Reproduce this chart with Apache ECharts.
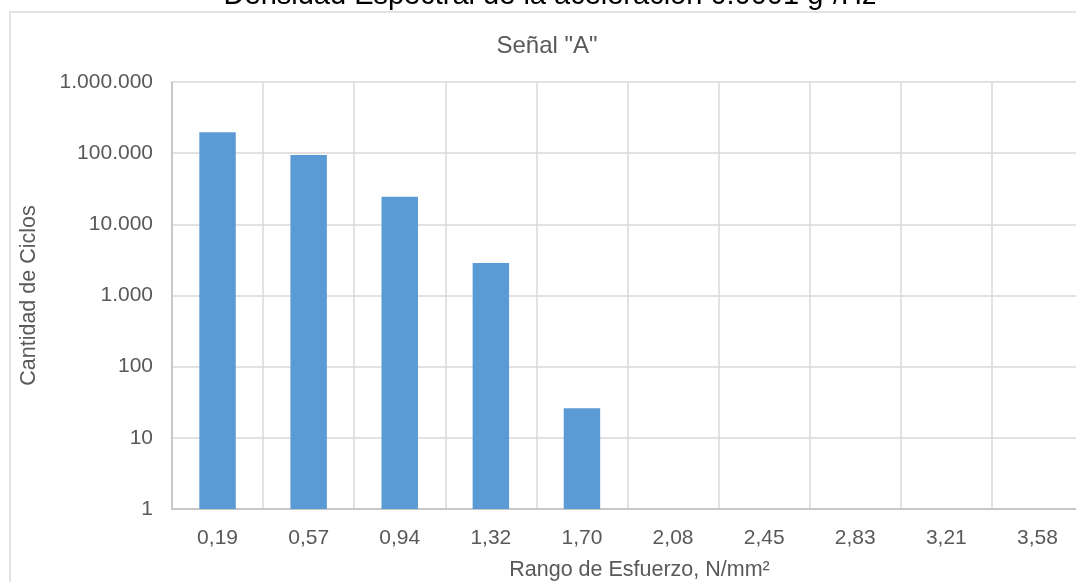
<!DOCTYPE html>
<html>
<head>
<meta charset="utf-8">
<script src="https://cdn.jsdelivr.net/npm/echarts@6/dist/echarts.min.js"></script>
<style>
html,body{margin:0;padding:0;background:#fff;}
#chart{width:1076px;height:582px;}
</style>
</head>
<body>
<div id="chart"></div>
<script>
const mainTitle = 'Densidad Espectral de la aceleración 0.0001 g²/Hz';
const subTitle = 'Señal "A"';
const categories = ['0,19','0,57','0,94','1,32','1,70','2,08','2,45','2,83','3,21','3,58'];
const cycles = [196000, 94200, 24400, 2860, 26, null, null, null, null, null];
const yAxisName = 'Cantidad de Ciclos';
const xAxisName = 'Rango de Esfuerzo, N/mm²';

const FONT = 'Liberation Sans, Arial, sans-serif';
const chart = echarts.init(document.getElementById('chart'), null, {renderer:'canvas'});

function fmt(v){
  return String(Math.round(v)).replace(/\B(?=(\d{3})+(?!\d))/g, '.');
}

chart.setOption({
  animation:false,
  backgroundColor:'#ffffff',
  graphic:[
    {type:'rect', z:-1, shape:{x:10, y:12, width:1090, height:600},
     style:{fill:'none', stroke:'#d9d9d9', lineWidth:1.5}},
    {type:'text', x:550, y:-4, style:{text:mainTitle, fill:'#000000', font:'29px ' + FONT, align:'center', verticalAlign:'middle'}},
    {type:'text', x:547, y:46, style:{text:subTitle, fill:'#595959', font:'24px ' + FONT, align:'center', verticalAlign:'middle'}}
  ],
  grid:{left:172, top:82, width:911, height:427, containLabel:false, outerBoundsMode:'none'},
  xAxis:{
    type:'category', data:categories, boundaryGap:true,
    name:xAxisName, nameLocation:'middle', nameGap:50,
    nameTextStyle:{color:'#595959', fontSize:21.5, fontFamily:FONT, padding:[0,0,0,24]},
    axisLine:{show:true, lineStyle:{color:'#bfbfbf', width:1.5}},
    axisTick:{show:false},
    axisLabel:{color:'#595959', fontSize:21, fontFamily:FONT, margin:19, interval:0},
    splitLine:{show:true, interval:0, lineStyle:{color:'#d9d9d9', width:1.5}}
  },
  yAxis:{
    type:'log', logBase:10, min:1, max:1000000,
    name:yAxisName, nameLocation:'middle', nameGap:132, nameRotate:90,
    nameTextStyle:{color:'#595959', fontSize:21.5, fontFamily:FONT},
    axisLine:{show:true, lineStyle:{color:'#bfbfbf', width:1.5}},
    axisTick:{show:false},
    axisLabel:{color:'#595959', fontSize:21, fontFamily:FONT, margin:19, formatter:fmt},
    splitLine:{show:true, lineStyle:{color:'#d9d9d9', width:1.5}},
    minorTick:{show:false}
  },
  series:[{
    type:'bar', data:cycles, barWidth:'40%',
    itemStyle:{color:'#5b9bd5'}
  }]
});
</script>
</body>
</html>
